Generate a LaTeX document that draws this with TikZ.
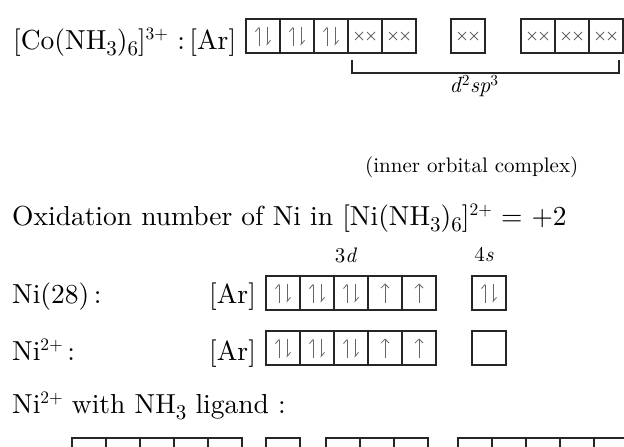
\documentclass[tikz,border=0pt]{standalone}
\usepackage{fontspec}
\setmainfont{lmroman10-regular.otf}[ItalicFont=lmroman10-italic.otf,BoldFont=lmroman10-bold.otf]
\usepackage{tikz}
\usetikzlibrary{arrows.meta,calc}
\newcommand{\lo}[1]{\raisebox{-6pt}{\fontsize{21}{21}\selectfont #1}}
\newcommand{\hi}[1]{\raisebox{10pt}{\fontsize{17.5}{18}\selectfont #1}}

\begin{document}
\begin{tikzpicture}[x=1pt,y=-1pt,
 big/.style={font=\fontsize{27.5}{32}\selectfont,anchor=base west,inner sep=0pt},
 small/.style={font=\fontsize{21}{25}\selectfont,inner sep=0pt},
 orb/.style={draw=black!85,line width=1.2pt,minimum width=34pt,minimum height=34pt,inner sep=0pt,outer sep=0pt},
 spin/.style={black!60,line width=.8pt},
 harp/.style={-{Straight Barb[left,length=4pt,width=7pt]}},
 emptyorb/.style={orb},
 pairorb/.style={orb,path picture={
   \coordinate (oc) at (path picture bounding box.center);
   \draw[spin,harp] ([shift={(-4,9.5)}]oc)--++(0,-19);
   \draw[spin,harp] ([shift={(4,-9.5)}]oc)--++(0,19);}},
 oneorb/.style={orb,path picture={
   \coordinate (oc) at (path picture bounding box.center);
   \draw[spin,-{Straight Barb[length=4pt,width=8pt]}] ([shift={(0,9.5)}]oc)--++(0,-19);}},
 lporb/.style={orb,path picture={
   \coordinate (oc) at (path picture bounding box.center);
   \draw[spin] ([shift={(-10,-4)}]oc)--++(8,8) ++(0,-8)--++(-8,8)
     ([shift={(2,-4)}]oc)--++(8,8) ++(0,-8)--++(-8,8);}},
 brk/.style={draw=black!85,line width=1.2pt}]
\useasboundingbox (0,0) rectangle (624,447);
\clip (0,0) rectangle (624,447);
% [Co(NH3)6]3+
\node[big] (cotxt) at (13,49) {[Co(NH\lo{3})\lo{6}]\hi{3+} :\,[Ar]};
\node[pairorb] (co1) at (263,36) {};
\node[pairorb] (co2) at (297,36) {};
\node[pairorb] (co3) at (331,36) {};
\node[lporb] (co4) at (365,36) {};
\node[lporb] (co5) at (399,36) {};
\node[lporb] (co6) at (468,36) {};
\node[lporb] (co7) at (538,36) {};
\node[lporb] (co8) at (572,36) {};
\node[lporb] (co9) at (606,36) {};
\draw[brk] ([shift={(4,7)}]co4.south west)--++(0,13)-|([shift={(-4,7)}]co9.south east);
\node[small,font=\fontsize{22}{26}\selectfont] (hyb) at (474,86) {\textit{d}\textsuperscript{2}\textit{sp}\textsuperscript{3}};
\node[small,anchor=base west] (inner) at (365,172) {(inner orbital complex)};
% Ni
\node[big] (oxid) at (12,225) {Oxidation number of Ni in [Ni(NH\lo{3})\lo{6}]\hi{2+} = +2};
\node[small] (lbld) at (346,255) {3\textit{d}};
\node[small] (lbls) at (484,255) {4\textit{s}};
\node[big] (nitxt) at (12,303) {Ni(28)\,:};
\node[big] (niar) at (209,303) {[Ar]};
\node[pairorb] (ni1) at (283,293) {};
\node[pairorb] (ni2) at (317,293) {};
\node[pairorb] (ni3) at (351,293) {};
\node[oneorb] (ni4) at (385,293) {};
\node[oneorb] (ni5) at (419,293) {};
\node[pairorb] (ni6) at (489,293) {};
\node[big] (iontxt) at (12,360) {Ni\hi{2+}\,:};
\node[big] (ionar) at (209,360) {[Ar]};
\node[pairorb] (ion1) at (283,348) {};
\node[pairorb] (ion2) at (317,348) {};
\node[pairorb] (ion3) at (351,348) {};
\node[oneorb] (ion4) at (385,348) {};
\node[oneorb] (ion5) at (419,348) {};
\node[emptyorb] (ion6) at (489,348) {};
\node[big] (ligtxt) at (12,413) {Ni\hi{2+} with NH\lo{3} ligand :};
\node[emptyorb] (lg1) at (89,455) {};
\node[emptyorb] (lg2) at (123,455) {};
\node[emptyorb] (lg3) at (157,455) {};
\node[emptyorb] (lg4) at (191,455) {};
\node[emptyorb] (lg5) at (225,455) {};
\node[emptyorb] (lg6) at (283,455) {};
\node[emptyorb] (lg7) at (343,455) {};
\node[emptyorb] (lg8) at (377,455) {};
\node[emptyorb] (lg9) at (411,455) {};
\node[emptyorb] (lg10) at (475,455) {};
\node[emptyorb] (lg11) at (509,455) {};
\node[emptyorb] (lg12) at (543,455) {};
\node[emptyorb] (lg13) at (577,455) {};
\node[emptyorb] (lg14) at (611,455) {};
\end{tikzpicture}
\end{document}
